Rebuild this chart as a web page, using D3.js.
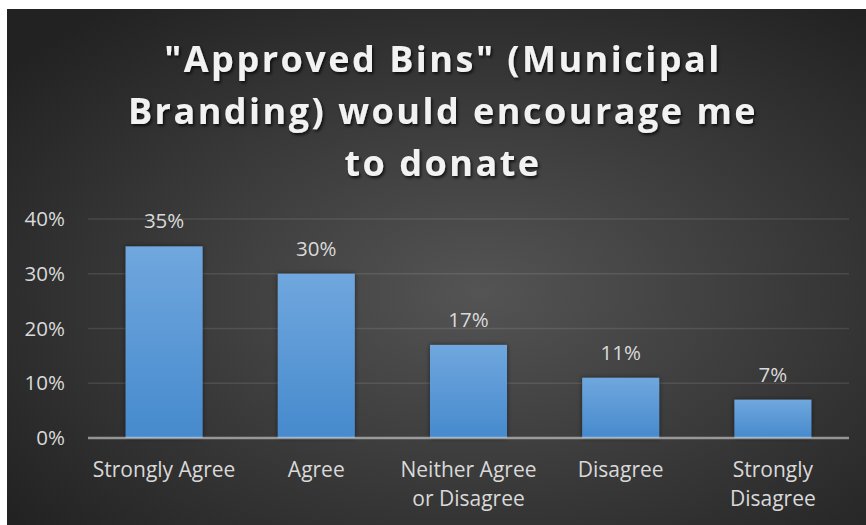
<!DOCTYPE html>
<html>
<head>
<meta charset="utf-8">
<script src="https://cdn.jsdelivr.net/npm/d3@7"></script>
<style>
  html, body { margin: 0; padding: 0; background: #fff; }
  svg { display: block; }
  text { font-family: "Open Sans", "Noto Sans", sans-serif; }
</style>
</head>
<body>
<svg id="chart" width="866" height="525"></svg>
<script>
// Respostas da pesquisa e percentuais
const categories = ["Strongly Agree", "Agree", "Neither Agree or Disagree", "Disagree", "Strongly Disagree"];
const values = [35, 30, 17, 11, 7];
const yTicks = [0, 10, 20, 30, 40];
const titleLines = ["\"Approved Bins\" (Municipal", "Branding) would encourage me", "to donate"];

const svg = d3.select("#chart");
const defs = svg.append("defs");

// fundo escuro com gradiente radial (centro mais claro)
const bg = defs.append("radialGradient").attr("id", "bg")
  .attr("cx", "55%").attr("cy", "55%").attr("r", "70%");
bg.append("stop").attr("offset", "0%").attr("stop-color", "#545454");
bg.append("stop").attr("offset", "100%").attr("stop-color", "#222222");

const barGrad = defs.append("linearGradient").attr("id", "bar")
  .attr("x1", 0).attr("y1", 0).attr("x2", 0).attr("y2", 1);
barGrad.append("stop").attr("offset", "0%").attr("stop-color", "#70a7de");
barGrad.append("stop").attr("offset", "100%").attr("stop-color", "#468acd");

defs.append("filter").attr("id", "barShadow")
  .attr("x", "-20%").attr("y", "-10%").attr("width", "140%").attr("height", "120%")
  .append("feDropShadow").attr("dx", 0).attr("dy", 0).attr("stdDeviation", 2.5)
  .attr("flood-color", "#000").attr("flood-opacity", 0.5);

defs.append("filter").attr("id", "titleShadow")
  .attr("x", "-10%").attr("y", "-30%").attr("width", "120%").attr("height", "160%")
  .append("feDropShadow").attr("dx", 1.5).attr("dy", 2).attr("stdDeviation", 1.5)
  .attr("flood-color", "#000").attr("flood-opacity", 0.75);

svg.append("rect").attr("x", 7).attr("y", 9).attr("width", 859).attr("height", 516)
  .attr("fill", "url(#bg)");

// título em três linhas
svg.append("text")
  .attr("x", 443).attr("text-anchor", "middle")
  .style("font-size", "36px").style("font-weight", "bold").style("letter-spacing", "2.5px")
  .attr("fill", "#f2f2f2").attr("filter", "url(#titleShadow)")
  .selectAll("tspan").data(titleLines).join("tspan")
  .attr("x", 443).attr("y", (d, i) => 72 + i * 52)
  .text((d) => d);

// área de plotagem
const plotL = 88, plotR = 849, plotT = 219, plotB = 438;
const x = d3.scaleBand().domain(categories).range([plotL, plotR]).paddingInner(0.494).paddingOuter(0.247);
const y = d3.scaleLinear().domain([0, 40]).range([plotB, plotT]);

const g = svg.append("g");

g.selectAll(".grid").data(yTicks.filter((t) => t > 0)).join("line")
  .attr("x1", plotL).attr("x2", plotR)
  .attr("y1", (d) => y(d)).attr("y2", (d) => y(d))
  .attr("stroke", "#ffffff").attr("stroke-opacity", 0.1).attr("stroke-width", 1.5);

g.selectAll(".tick").data(yTicks).join("text")
  .attr("x", 65).attr("y", (d) => y(d)).attr("dy", "0.35em")
  .attr("text-anchor", "end").attr("fill", "#d9d9d9").style("font-size", "20.5px")
  .text((d) => `${d}%`);

g.selectAll(".bar").data(values).join("rect")
  .attr("x", (d, i) => x(categories[i])).attr("width", x.bandwidth())
  .attr("y", (d) => y(d)).attr("height", (d) => plotB - y(d))
  .attr("fill", "url(#bar)").attr("filter", "url(#barShadow)");

// eixo horizontal por cima das barras
g.append("line").attr("x1", plotL).attr("x2", plotR).attr("y1", plotB).attr("y2", plotB)
  .attr("stroke", "#d9d9d9").attr("stroke-opacity", 0.6).attr("stroke-width", 2.5);

g.selectAll(".val").data(values).join("text")
  .attr("x", (d, i) => x(categories[i]) + x.bandwidth() / 2)
  .attr("y", (d) => y(d) - 18)
  .attr("text-anchor", "middle").attr("fill", "#d9d9d9").style("font-size", "20.5px")
  .text((d) => `${d}%`);

// rótulos das categorias com quebra pela largura da faixa
const step = x.step();
categories.forEach((c) => {
  const t = g.append("text").attr("text-anchor", "middle").attr("fill", "#d9d9d9")
    .style("font-size", "21px");
  const cx = x(c) + x.bandwidth() / 2;
  const words = c.split(" ");
  const lines = [];
  let cur = [];
  words.forEach((w) => {
    const test = cur.concat(w).join(" ");
    const probe = t.append("tspan").text(test);
    const wdt = probe.node().getComputedTextLength();
    probe.remove();
    if (wdt > step - 4 && cur.length) { lines.push(cur.join(" ")); cur = [w]; }
    else cur.push(w);
  });
  lines.push(cur.join(" "));
  lines.forEach((l, i) => {
    t.append("tspan").attr("x", cx).attr("y", 477 + i * 29).text(l);
  });
});
</script>
</body>
</html>
